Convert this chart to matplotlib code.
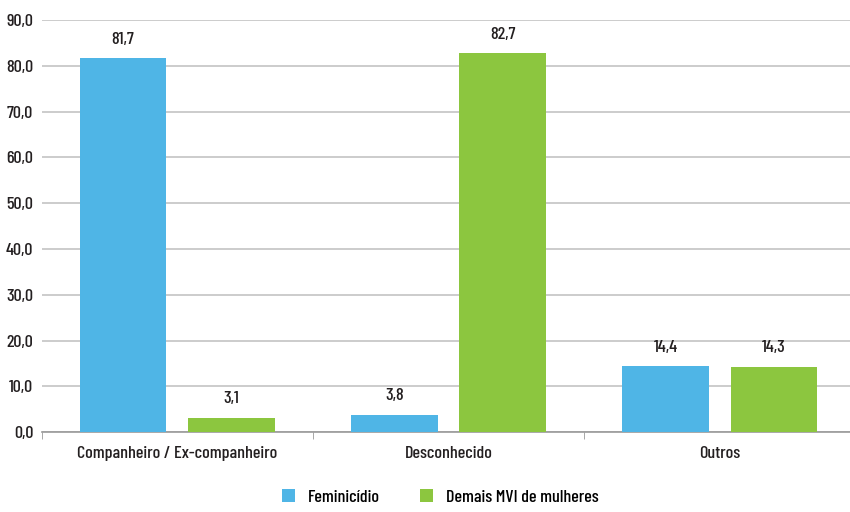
import matplotlib.pyplot as plt
import numpy as np

# data
categories = ['Companheiro / Ex-companheiro', 'Desconhecido', 'Outros']
feminicidio = [81.7, 3.8, 14.4]
demais_mvi = [3.1, 82.7, 14.3]
series_names = ['Feminicídio', 'Demais MVI de mulheres']

plt.rcParams['font.family'] = ['Barlow Condensed', 'DejaVu Sans']
plt.rcParams['font.weight'] = 'medium'

blue = '#4fb5e6'
green = '#8cc63f'
txt = '#231f20'
fs = 13

fig = plt.figure(figsize=(8.5, 5.12), dpi=100)
ax = fig.add_axes([0.049, 0.156, 0.951, 0.805])

x = np.arange(len(categories))
w = 0.32
off = 0.2
b1 = ax.bar(x - off, feminicidio, w, color=blue, label=series_names[0], zorder=3)
b2 = ax.bar(x + off, demais_mvi, w, color=green, label=series_names[1], zorder=3)

for bars in (b1, b2):
    for r in bars:
        v = r.get_height()
        ax.text(r.get_x() + r.get_width() / 2, v + 2.5, f'{v:.1f}'.replace('.', ','),
                ha='center', va='bottom', fontsize=fs, color=txt)

ax.set_ylim(0, 90)
ax.set_yticks(np.arange(0, 91, 10))
ax.set_yticklabels([f'{v:.1f}'.replace('.', ',') for v in np.arange(0, 91, 10)],
                   fontsize=fs, color=txt)
ax.yaxis.grid(True, color='#c4c4c4', linewidth=1.2, zorder=0)
ax.tick_params(axis='y', length=0, pad=6)

ax.set_xlim(-0.5, 2.48)
ax.set_xticks(x)
ax.set_xticklabels(categories, fontsize=fs, color=txt)
ax.tick_params(axis='x', length=0, pad=10)
ax.set_xticks([-0.5, 0.5, 1.5], minor=True)
ax.tick_params(axis='x', which='minor', length=5, color='#999999')

for s in ['top', 'right', 'left']:
    ax.spines[s].set_visible(False)
ax.spines['bottom'].set_color('#999999')
ax.spines['bottom'].set_linewidth(1.2)

fig.legend(handles=[b1, b2], loc='center', bbox_to_anchor=(0.518, 0.03), ncol=2,
           frameon=False, fontsize=fs, handlelength=0.75, handleheight=0.75,
           columnspacing=2.2, handletextpad=0.7)

fig.savefig('out.png', dpi=100)
